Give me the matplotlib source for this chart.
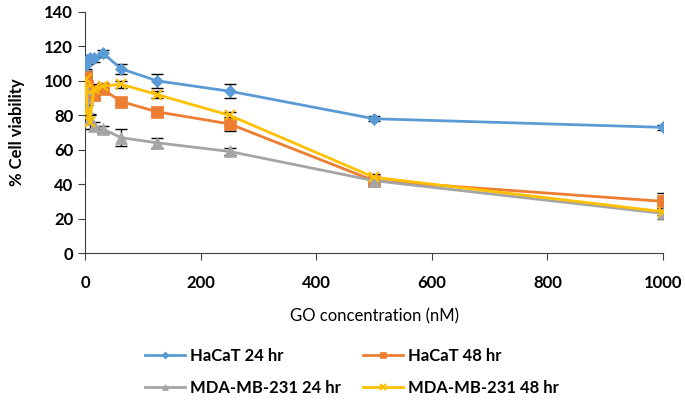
import matplotlib
matplotlib.use('Agg')
import matplotlib.pyplot as plt
import numpy as np

# GO concentration (nM), two-fold dilutions
conc = [0.98, 1.95, 3.9, 7.8, 15.6, 31.25, 62.5, 125, 250, 500, 1000]

hacat_24 = [104, 109, 112, 113, 113, 116, 107, 100, 94, 78, 73]
hacat_24_err = [3, 3, 2, 2, 2, 2, 3, 4, 4, 1.5, 1.5]

hacat_48 = [102, 100, 97, 94, 92, 95, 88, 82, 75, 42, 30]
hacat_48_err = [4, 3, 3, 3, 3, 2, 2, 2, 4, 2, 5]

mda_24 = [95, 90, 84, 78, 74, 72, 67, 64, 59, 42, 23]
mda_24_err = [3, 3, 3, 3, 2, 2, 5, 3, 2, 2, 3]

mda_48 = [101, 95, 82, 76, 95, 97, 98, 92, 80, 44, 24]
mda_48_err = [3, 3, 4, 4, 3, 2, 2, 2, 2, 2, 2]

plt.rcParams['font.family'] = ['Lato', 'DejaVu Sans']

fig = plt.figure(figsize=(6.85, 4.03), dpi=100)
ax = fig.add_axes([85 / 685, 1 - 253 / 403, (663 - 85) / 685, (253 - 12) / 403])

series = [
    ('HaCaT 24 hr', hacat_24, hacat_24_err, '#5B9BD5', 'D', 6),
    ('HaCaT 48 hr', hacat_48, hacat_48_err, '#ED7D31', 's', 8),
    ('MDA-MB-231 24 hr', mda_24, mda_24_err, '#A5A5A5', '^', 8),
    ('MDA-MB-231 48 hr', mda_48, mda_48_err, '#FFC000', 'x', 7),
]

handles = []
for label, y, err, color, marker, ms in series:
    ax.errorbar(conc, y, yerr=err, fmt='none', ecolor='black', elinewidth=1,
                capsize=4, capthick=1, zorder=2)
    h, = ax.plot(conc, y, color=color, marker=marker, markersize=ms, linewidth=2,
                 markeredgewidth=1.5 if marker == 'x' else 0.5, label=label, zorder=3)
    handles.append(h)

ax.set_xlim(0, 1000)
ax.set_ylim(0, 140)
ax.set_xticks(np.arange(0, 1001, 200))
ax.set_yticks(np.arange(0, 141, 20))
for side in ['top', 'right']:
    ax.spines[side].set_visible(False)
for side in ['left', 'bottom']:
    ax.spines[side].set_color('#404040')
ax.tick_params(direction='out', length=5, color='#404040', labelsize=12)
for lab in ax.get_xticklabels() + ax.get_yticklabels():
    lab.set_fontweight('bold')
ax.xaxis.set_tick_params(pad=11)

ax.set_xlabel('GO concentration (nM)', fontsize=12, labelpad=12)
ax.set_ylabel('% Cell viability', fontsize=12, fontweight='bold', labelpad=14)

# row-major order like the original legend
order = [0, 2, 1, 3]
fig.legend([handles[i] for i in order], [series[i][0] for i in order],
           loc='upper left', bbox_to_anchor=(130 / 685, 1 - 333 / 403), ncol=2,
           frameon=False, prop={'size': 12, 'weight': 'bold'},
           columnspacing=1.3, handlelength=2.4, handletextpad=0.3,
           labelspacing=0.95, markerscale=0.6)

fig.savefig('out.png', dpi=100)
